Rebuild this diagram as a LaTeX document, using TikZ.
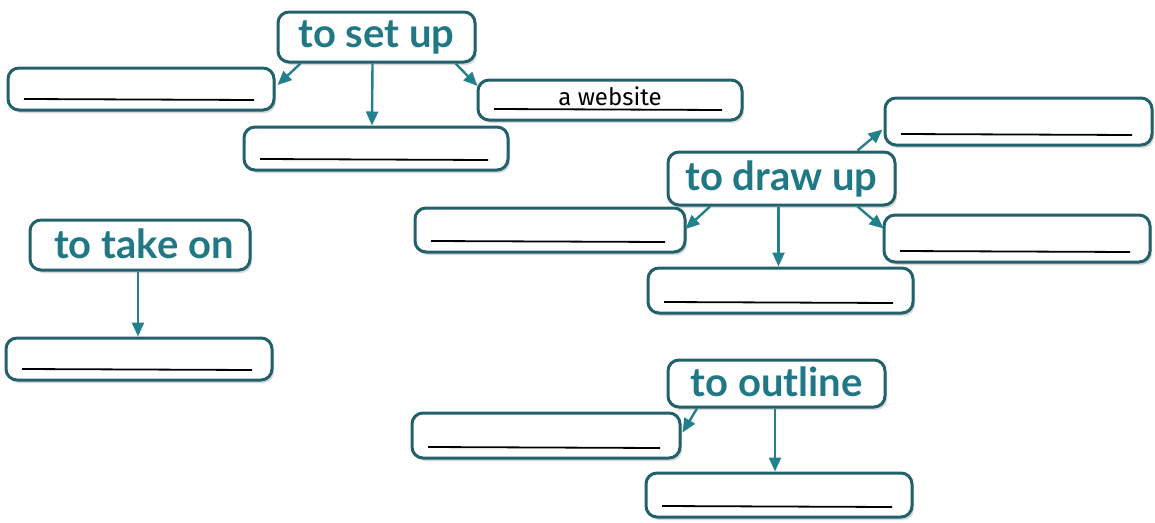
\documentclass[tikz,border=0pt]{standalone}
\usepackage{fontspec}
\setmainfont{Lato}
\newfontfamily\handfont{Fira Sans}
\usetikzlibrary{arrows.meta,shadows}
\definecolor{tealtext}{HTML}{1F7884}
\definecolor{tealline}{HTML}{22616B}
\definecolor{tealarrow}{HTML}{23818D}
\tikzset{
  boxbase/.style={draw=tealline, line width=3pt, rounded corners=11pt, fill=white,
    drop shadow={opacity=0.3, shadow xshift=2pt, shadow yshift=-3pt}},
  headbox/.style={boxbase, text=tealtext, font=\fontsize{40}{40}\selectfont\bfseries, inner sep=0pt},
  blankbox/.style={boxbase, inner sep=0pt,
    path picture={\draw[black, line width=1.8pt]
      ([xshift=16pt,yshift=11pt]path picture bounding box.south west) --
      ([xshift=-20pt,yshift=10pt]path picture bounding box.south east);}},
  conn/.style={draw=tealarrow, line width=2.4pt, -{Triangle[length=14pt,width=12pt]}}
}
\begin{document}
\begin{tikzpicture}[x=1pt,y=-1pt]
\useasboundingbox (0,0) rectangle (1155,522);
% heads
\node[headbox, minimum width=197pt, minimum height=50pt] (hs) at (376.5,37) {\raisebox{3pt}{to set up}};
\node[headbox, minimum width=227pt, minimum height=53pt] (dh) at (781.5,178.5) {\raisebox{3pt}{to draw up}};
\node[headbox, minimum width=220pt, minimum height=50pt] (th) at (140,245) {\hspace*{8pt}\raisebox{3pt}{to take on}};
\node[headbox, minimum width=217pt, minimum height=47pt] (oh) at (776.5,383.5) {\raisebox{3pt}{to outline}};
% blanks
\node[blankbox, minimum width=266pt, minimum height=42pt] (s1) at (141,89) {};
\node[blankbox, minimum width=264pt, minimum height=43pt] (s2) at (376,148.5) {};
\node[blankbox, minimum width=264pt, minimum height=40pt, font=\handfont\fontsize{24}{24}\selectfont] (s3) at (610,100) {\raisebox{7pt}{a website}};
\node[blankbox, minimum width=267pt, minimum height=47pt] (d1) at (1018.5,121.5) {};
\node[blankbox, minimum width=266pt, minimum height=47pt] (d2) at (1017,238.5) {};
\node[blankbox, minimum width=270pt, minimum height=44pt] (d3) at (550,230) {};
\node[blankbox, minimum width=265pt, minimum height=45pt] (d4) at (780.5,290.5) {};
\node[blankbox, minimum width=266pt, minimum height=42pt] (t1) at (139,359) {};
\node[blankbox, minimum width=268pt, minimum height=45pt] (o1) at (546,435.5) {};
\node[blankbox, minimum width=266pt, minimum height=44pt] (o2) at (779,495) {};
% connectors
\draw[conn] ([xshift=-76pt]hs.south) -- ([xshift=2pt,yshift=4pt]s1.east);
\draw[conn] ([xshift=-4pt]hs.south) -- ([xshift=-4pt]s2.north);
\draw[conn] ([xshift=79pt]hs.south) -- ([xshift=1pt,yshift=14pt]s3.west);
\draw[conn] ([xshift=76pt]dh.north) -- ([xshift=-1pt,yshift=-8pt]d1.west);
\draw[conn] ([xshift=-71.5pt]dh.south) -- ([xshift=-1pt,yshift=1pt]d3.east);
\draw[conn] ([xshift=-3pt]dh.south) -- ([xshift=-2pt]d4.north);
\draw[conn] ([xshift=76pt]dh.south) -- ([xshift=1pt,yshift=10pt]d2.west);
\draw[conn] ([xshift=-2pt]th.south) -- ([xshift=-1pt]t1.north);
\draw[conn] ([xshift=-79.5pt]oh.south) -- ([xshift=1pt,yshift=3pt]o1.east);
\draw[conn] ([xshift=-1.5pt]oh.south) -- ([xshift=-4pt]o2.north);
\end{tikzpicture}
\end{document}
